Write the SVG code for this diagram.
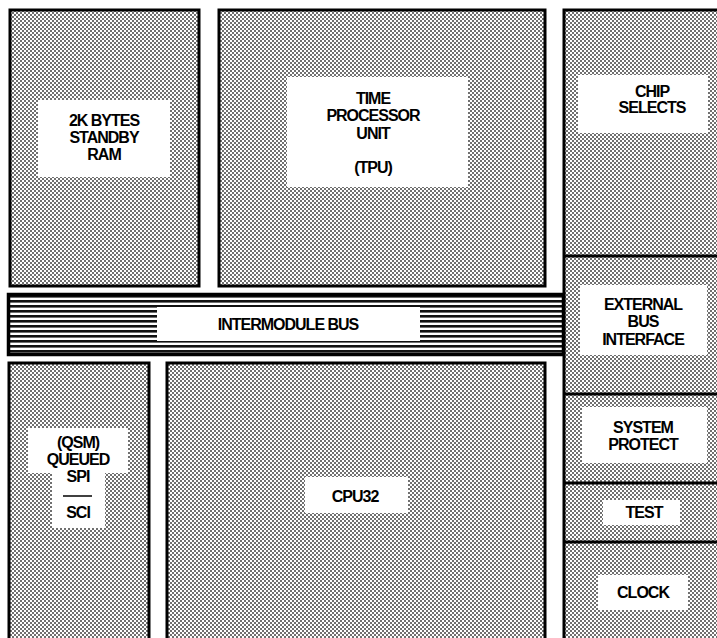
<svg xmlns="http://www.w3.org/2000/svg" width="717" height="638" viewBox="0 0 717 638">
<defs>
<pattern id="dots" width="4" height="4" patternUnits="userSpaceOnUse">
<rect width="4" height="4" fill="#ffffff"/>
<rect x="0" y="0" width="2" height="2" fill="#707070"/>
<rect x="2" y="2" width="2" height="2" fill="#707070"/>
</pattern>
<pattern id="lines" width="5" height="5" patternUnits="userSpaceOnUse">
<rect width="5" height="5" fill="#ffffff"/>
<rect x="0" y="0" width="5" height="2.6" fill="#111111"/>
</pattern>
</defs>
<style>
.blk{fill:url(#dots);stroke:#000;stroke-width:3}
.bus{fill:url(#lines);stroke:#000;stroke-width:3.5}
.lbl{fill:#fff;stroke:none}
.div{stroke:#000;stroke-width:3;fill:none}
text{font-family:"Liberation Sans",Arial,sans-serif;font-size:16px;font-weight:bold;letter-spacing:-1px;text-anchor:middle;fill:#000}
</style>
<rect width="717" height="638" fill="#fff"/>

<g id="ram">
<rect class="blk" x="10" y="10" width="189" height="276"/>
<rect class="lbl" x="38" y="100" width="132" height="77"/>
<text x="104" y="126">2K BYTES</text>
<text x="104" y="143">STANDBY</text>
<text x="104" y="160">RAM</text>
</g>

<g id="tpu">
<rect class="blk" x="219" y="10" width="326" height="276"/>
<rect class="lbl" x="287" y="77" width="181" height="110"/>
<text x="373" y="104">TIME</text>
<text x="373" y="121">PROCESSOR</text>
<text x="373" y="139">UNIT</text>
<text x="373" y="173">(TPU)</text>
</g>

<g id="right-column">
<rect class="blk" x="564" y="10" width="160" height="640"/>
<line class="div" x1="564" y1="256" x2="717" y2="256"/>
<line class="div" x1="564" y1="394" x2="717" y2="394"/>
<line class="div" x1="564" y1="483" x2="717" y2="483"/>
<line class="div" x1="564" y1="542" x2="717" y2="542"/>
</g>

<g id="chip-selects">
<rect class="lbl" x="578" y="75" width="130" height="58"/>
<text x="652" y="97">CHIP</text>
<text x="652" y="113">SELECTS</text>
</g>

<g id="external-bus-interface">
<rect class="lbl" x="580" y="285" width="127" height="70"/>
<text x="643" y="310">EXTERNAL</text>
<text x="643" y="327">BUS</text>
<text x="643" y="345">INTERFACE</text>
</g>

<g id="system-protect">
<rect class="lbl" x="582" y="407" width="125" height="56"/>
<text x="643" y="433">SYSTEM</text>
<text x="643" y="450">PROTECT</text>
</g>

<g id="test">
<rect class="lbl" x="603" y="500" width="77" height="25"/>
<text x="644" y="518">TEST</text>
</g>

<g id="clock">
<rect class="lbl" x="598" y="575" width="90" height="35"/>
<text x="643" y="598">CLOCK</text>
</g>

<g id="intermodule-bus">
<rect class="bus" x="8.5" y="294.5" width="555" height="60"/>
<rect class="lbl" x="157" y="307" width="263" height="34"/>
<text x="288" y="330">INTERMODULE BUS</text>
</g>

<g id="qsm">
<rect class="blk" x="9" y="363" width="140" height="290"/>
<rect class="lbl" x="28" y="428" width="100" height="45"/>
<rect class="lbl" x="52" y="472" width="53" height="56"/>
<text x="78" y="448">(QSM)</text>
<text x="78" y="465">QUEUED</text>
<text x="78" y="482">SPI</text>
<line x1="63" y1="496" x2="92" y2="496" stroke="#000" stroke-width="1.5"/>
<text x="78" y="518">SCI</text>
</g>

<g id="cpu32">
<rect class="blk" x="167" y="363" width="378" height="290"/>
<rect class="lbl" x="305" y="477" width="103" height="36"/>
<text x="355" y="502">CPU32</text>
</g>

<g id="connectors"></g>
</svg>
